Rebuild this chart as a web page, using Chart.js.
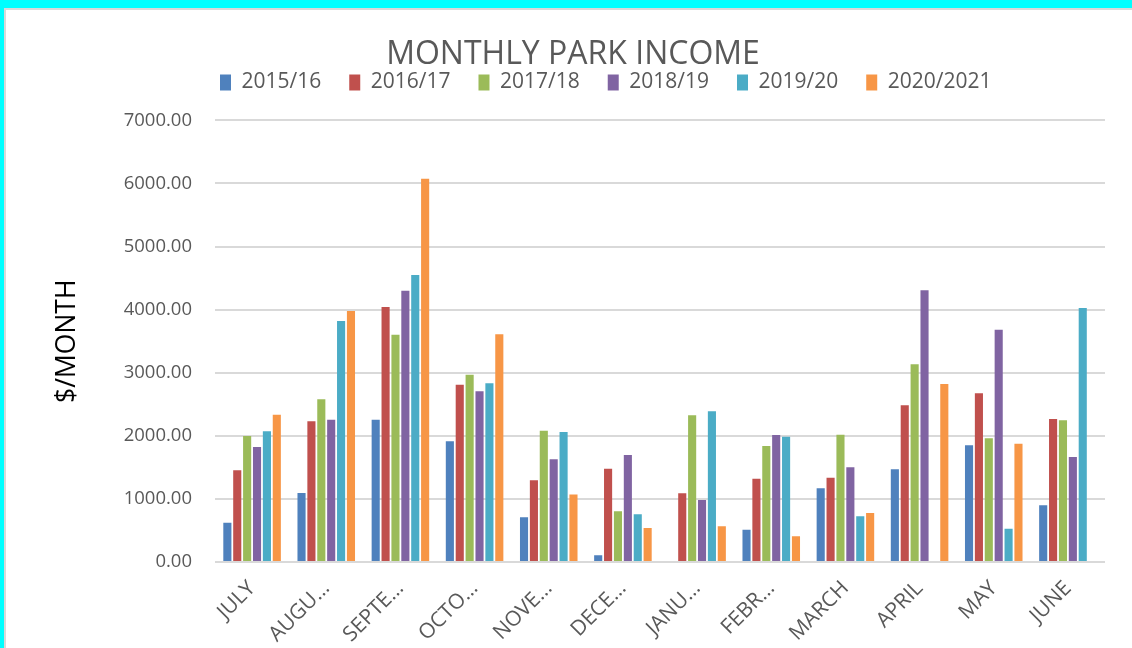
<!DOCTYPE html>
<html>
<head>
<meta charset="utf-8">
<script src="https://cdn.jsdelivr.net/npm/chart.js@4.4.1/dist/chart.umd.min.js"></script>
<style>
  html, body { margin: 0; padding: 0; background: #00ffff; }
  #frame {
    position: absolute; left: 4px; top: 8px;
    width: 1128px; height: 640px;
    border-top: 2px solid #d9d9d9; border-left: 2px solid #d9d9d9;
    background: #ffffff;
  }
</style>
</head>
<body>
<div id="frame"><canvas id="income-chart" width="1126" height="638"></canvas></div>
<script>
// Months of the financial year (July - June)
const months = ['JULY', 'AUGUST', 'SEPTEMBER', 'OCTOBER', 'NOVEMBER', 'DECEMBER',
  'JANUARY', 'FEBRUARY', 'MARCH', 'APRIL', 'MAY', 'JUNE'];

const seasons = ['2015/16', '2016/17', '2017/18', '2018/19', '2019/20', '2020/2021'];

const income2015 = [624, 1094, 2256, 1913, 708, 106, null, 513, 1168, 1469, 1849, 899];
const income2016 = [1453, 2230, 4041, 2811, 1295, 1480, 1089, 1321, 1337, 2483, 2673, 2267];
const income2017 = [1997, 2578, 3604, 2970, 2082, 803, 2325, 1839, 2019, 3133, 1960, 2246];
const income2018 = [1823, 2256, 4301, 2705, 1627, 1696, 983, 2013, 1501, 4306, 3683, 1664];
const income2019 = [2071, 3820, 4548, 2832, 2061, 756, 2388, 1987, 724, null, 529, 4026];
const income2020 = [2336, 3978, 6076, 3609, 1068, 539, 566, 407, 777, 2821, 1876, null];

const yTicks = [0, 1000, 2000, 3000, 4000, 5000, 6000, 7000];

const seriesColors = ['#4f81bd', '#c0504d', '#9bbb59', '#8064a2', '#4bacc6', '#f79646'];

document.addEventListener('DOMContentLoaded', function () {
  const canvas = document.getElementById('income-chart');
  const ctx = canvas.getContext('2d');
  const series = [income2015, income2016, income2017, income2018, income2019, income2020];

  // month labels get cut with an ellipsis when they are too wide, like Excel does
  const measureCtx = document.createElement('canvas').getContext('2d');
  measureCtx.font = '21px "Open Sans"';
  function fitLabel(name, maxW) {
    if (measureCtx.measureText(name).width <= maxW) return name;
    let cut = name;
    while (cut.length > 1 && measureCtx.measureText(cut + '…').width > maxW) {
      cut = cut.slice(0, -1);
    }
    return cut + '…';
  }

  // Excel-style legend sits left of centre, move it after layout
  const legendPlacer = {
    id: 'legendPlacer',
    afterLayout(chart) {
      const lg = chart.legend;
      const dx = 186 - lg.left;
      const dy = 34 - lg.top;
      lg.left += dx; lg.right += dx;
      lg.top += dy; lg.bottom += dy;
    }
  };

  new Chart(ctx, {
    type: 'bar',
    data: {
      labels: months,
      datasets: seasons.map(function (name, i) {
        return {
          label: name,
          data: series[i],
          backgroundColor: seriesColors[i],
          categoryPercentage: 0.8,
          barPercentage: 0.82,
        };
      }),
    },
    options: {
      responsive: false,
      animation: false,
      layout: { padding: { left: 35, right: 27, top: 0, bottom: 0 } },
      plugins: {
        title: {
          display: true,
          text: 'MONTHLY PARK INCOME',
          color: '#595959',
          font: { family: 'Open Sans', size: 32, weight: 'normal' },
          padding: { top: 26, bottom: -13 },
        },
        legend: {
          align: 'start',
          labels: {
            color: '#595959',
            font: { family: 'Open Sans', size: 21 },
            boxWidth: 11,
            boxHeight: 16,
            padding: 28,
          },
        },
        tooltip: { enabled: false },
      },
      scales: {
        x: {
          grid: { display: false, drawTicks: false },
          border: { display: false },
          afterFit: function (scale) { scale.height = 86; },
          ticks: {
            color: '#595959',
            font: { family: 'Open Sans', size: 21 },
            minRotation: 45,
            maxRotation: 45,
            autoSkip: false,
            padding: 14,
            callback: function (value) {
              return fitLabel(this.getLabelForValue(value), 78);
            },
          },
        },
        y: {
          min: 0,
          max: 7000,
          afterFit: function (scale) { scale.width = 174; },
          afterBuildTicks: function (scale) {
            scale.ticks = yTicks.map(function (v) { return { value: v }; });
          },
          grid: { color: '#d9d9d9', lineWidth: 2, drawTicks: false },
          border: { display: false },
          ticks: {
            color: '#595959',
            font: { family: 'Open Sans', size: 18.5 },
            padding: 23,
            callback: function (value) { return Number(value).toFixed(2); },
          },
          title: {
            display: true,
            text: '$/MONTH',
            color: '#000000',
            font: { family: 'Open Sans', size: 26.5 },
            padding: { top: 11, bottom: 0 },
          },
        },
      },
    },
    plugins: [legendPlacer],
  });
});
</script>
</body>
</html>
